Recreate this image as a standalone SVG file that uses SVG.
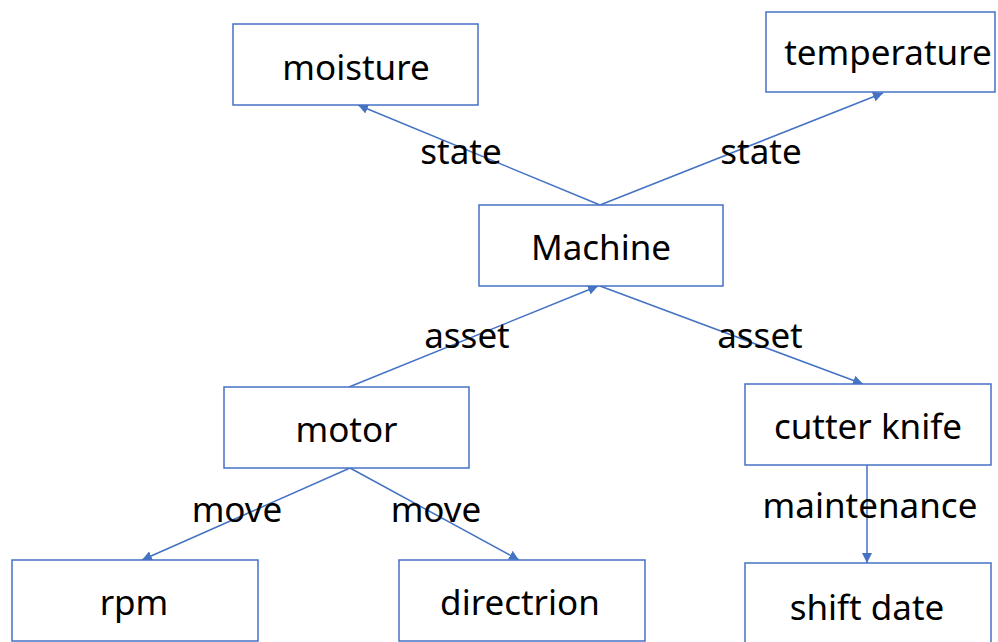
<svg xmlns="http://www.w3.org/2000/svg" width="998" height="642" viewBox="0 0 998 642">
  <style>
    .box { fill: #ffffff; stroke: #4472C4; stroke-width: 1.5; }
    .node-text { font-family: "Noto Sans", "Open Sans", sans-serif; font-size: 35px; fill: #000000; text-anchor: middle; }
    .edge { stroke: #4472C4; stroke-width: 1.5; fill: none; marker-end: url(#arrow); }
    .edge-label { font-family: "Noto Sans", "Open Sans", sans-serif; font-size: 35px; fill: #000000; text-anchor: middle; }
  </style>
  <defs>
    <marker id="arrow" viewBox="0 0 10 10" refX="10" refY="5" markerWidth="10" markerHeight="10" markerUnits="userSpaceOnUse" orient="auto">
      <path d="M0,0 L10,5 L0,10 z" fill="#4472C4"/>
    </marker>
  </defs>
  <rect width="998" height="642" fill="#ffffff"/>

  <g id="connectors">
    <line class="edge" x1="600" y1="205" x2="358" y2="105"/>
    <line class="edge" x1="600" y1="205" x2="883" y2="93"/>
    <line class="edge" x1="349" y1="387" x2="598" y2="286"/>
    <line class="edge" x1="600" y1="286" x2="863" y2="384"/>
    <line class="edge" x1="350" y1="468" x2="142" y2="560"/>
    <line class="edge" x1="350" y1="468" x2="519" y2="560"/>
    <line class="edge" x1="867" y1="465" x2="867" y2="563"/>
  </g>

  <g id="edge-labels">
    <text class="edge-label" x="461" y="164">state</text>
    <text class="edge-label" x="761" y="164">state</text>
    <text class="edge-label" x="467" y="348">asset</text>
    <text class="edge-label" x="760" y="348">asset</text>
    <text class="edge-label" x="237" y="522">move</text>
    <text class="edge-label" x="436" y="522">move</text>
    <text class="edge-label" x="870" y="518">maintenance</text>
  </g>

  <g id="node-moisture">
    <rect class="box" x="233" y="24" width="245" height="81"/>
    <text class="node-text" x="356" y="80">moisture</text>
  </g>
  <g id="node-temperature">
    <rect class="box" x="766" y="12" width="229" height="80"/>
    <text class="node-text" x="888" y="65">temperature</text>
  </g>
  <g id="node-machine">
    <rect class="box" x="479" y="205" width="244" height="81"/>
    <text class="node-text" x="601" y="260">Machine</text>
  </g>
  <g id="node-motor">
    <rect class="box" x="224" y="387" width="245" height="81"/>
    <text class="node-text" x="346.5" y="442">motor</text>
  </g>
  <g id="node-cutter-knife">
    <rect class="box" x="745" y="384" width="246" height="81"/>
    <text class="node-text" x="868" y="439">cutter knife</text>
  </g>
  <g id="node-rpm">
    <rect class="box" x="12" y="560" width="246" height="81"/>
    <text class="node-text" x="134" y="615">rpm</text>
  </g>
  <g id="node-directrion">
    <rect class="box" x="399" y="560" width="246" height="81"/>
    <text class="node-text" x="520" y="615">directrion</text>
  </g>
  <g id="node-shift-date">
    <rect class="box" x="745" y="563" width="246" height="80"/>
    <text class="node-text" x="867" y="620">shift date</text>
  </g>
</svg>
